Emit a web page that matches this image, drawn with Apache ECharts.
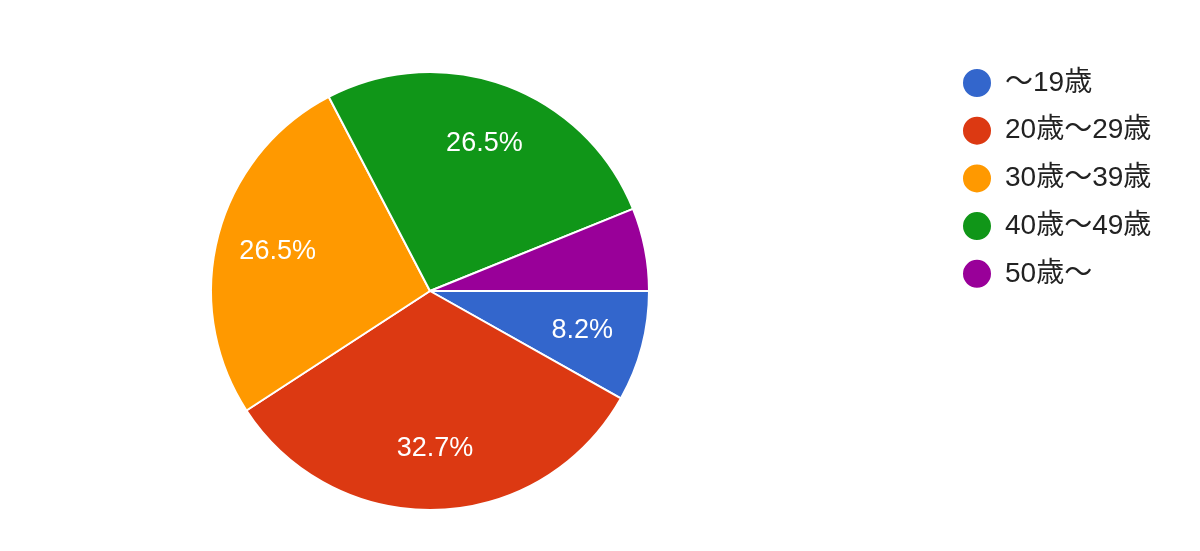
<!DOCTYPE html>
<html>
<head>
<meta charset="utf-8">
<script src="https://cdn.jsdelivr.net/npm/echarts@6/dist/echarts.min.js"></script>
<style>
html,body{margin:0;padding:0;background:#fff;}
#main{width:1200px;height:551px;}
</style>
</head>
<body>
<div id="main"></div>
<script>
const categories = ['～19歳', '20歳～29歳', '30歳～39歳', '40歳～49歳', '50歳～'];
const counts = [4, 16, 13, 13, 3];
const colors = ['#3366cc', '#dc3912', '#ff9900', '#109618', '#990099'];

const total = counts.reduce((a, b) => a + b, 0);
const chart = echarts.init(document.getElementById('main'));
const data = categories.map((c, i) => ({ name: c, value: counts[i] }));
const fontFam = '"Liberation Sans", Arial, "Noto Sans CJK JP", sans-serif';

chart.setOption({
  animation: false,
  color: colors,
  legend: {
    orient: 'vertical',
    left: 956,
    top: 62,
    icon: 'circle',
    itemWidth: 30,
    itemHeight: 30,
    itemGap: 15.7,
    data: categories,
    textStyle: { fontSize: 28, lineHeight: 30, color: '#222', fontFamily: fontFam, padding: [0, 0, 0, 8] }
  },
  series: [
    {
      type: 'pie',
      center: [430, 291],
      radius: [0, 219],
      startAngle: 0,
      clockwise: true,
      data: data,
      label: { show: false },
      labelLine: { show: false },
      itemStyle: { borderColor: '#fff', borderWidth: 2 },
      emphasis: { disabled: true }
    },
    {
      type: 'pie',
      center: [430, 291],
      radius: [90, 219],
      startAngle: 0,
      clockwise: true,
      silent: true,
      data: data,
      itemStyle: { color: 'rgba(0,0,0,0)' },
      label: {
        show: true,
        position: 'inside',
        color: '#fff',
        fontSize: 27,
        fontFamily: fontFam,
        formatter: p => {
          const pct = p.value / total * 100;
          return pct < 7 ? '' : pct.toFixed(1) + '%';
        }
      },
      labelLine: { show: false },
      emphasis: { disabled: true },
      legendHoverLink: false
    }
  ]
});
</script>
</body>
</html>
